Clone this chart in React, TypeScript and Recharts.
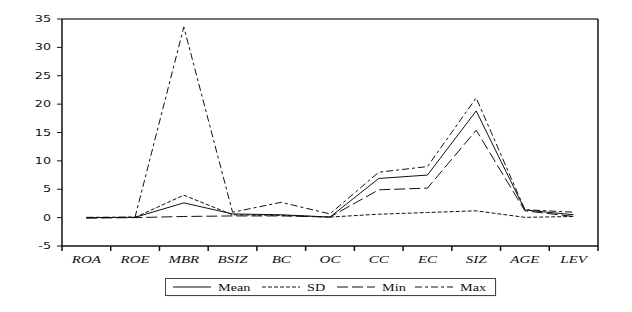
import { LineChart, Line, XAxis, YAxis, Legend } from "recharts";

const categories = ["ROA", "ROE", "MBR", "BSIZ", "BC", "OC", "CC", "EC", "SIZ", "AGE", "LEV"];
const meanValues = [0.0, 0.05, 2.6, 0.65, 0.5, 0.1, 6.9, 7.5, 18.8, 1.35, 0.5];
const sdValues = [0.0, 0.05, 3.95, 0.5, 0.4, 0.1, 0.6, 0.9, 1.2, 0.05, 0.2];
const minValues = [-0.1, 0.0, 0.2, 0.3, 0.3, 0.1, 4.9, 5.2, 15.4, 1.2, 0.2];
const maxValues = [0.05, 0.1, 33.6, 0.95, 2.7, 0.65, 8.0, 9.0, 21.1, 1.4, 0.95];
const yTicks = [-5, 0, 5, 10, 15, 20, 25, 30, 35];

const data = categories.map((cat, i) => ({
  cat,
  Mean: meanValues[i],
  SD: sdValues[i],
  Min: minValues[i],
  Max: maxValues[i],
}));

const series = [
  { key: "Mean", dash: undefined },
  { key: "SD", dash: "4 2" },
  { key: "Min", dash: "11 4" },
  { key: "Max", dash: "7 3 3 3" },
];

const STRETCH = 1.5;
const HALF_BAND = 536 / 11 / 2;

function YTick({ x, y, payload }: any) {
  return (
    <g transform={`translate(${x - 4},${y})`}>
      <text
        transform={`scale(${STRETCH},1)`}
        textAnchor="end"
        dy={3}
        fontFamily="DejaVu Sans"
        fontSize={8.5}
        fill="#111"
      >
        {payload.value}
      </text>
    </g>
  );
}

function XTick({ x, y, payload, index }: any) {
  return (
    <g>
      <line x1={x - HALF_BAND} x2={x - HALF_BAND} y1={y} y2={y + 5} stroke="#111" strokeWidth={1.5} />
      {index === categories.length - 1 && (
        <line x1={x + HALF_BAND} x2={x + HALF_BAND} y1={y} y2={y + 5} stroke="#111" strokeWidth={1.5} />
      )}
      <g transform={`translate(${x},${y + 16.5})`}>
        <text
          transform={`scale(${STRETCH},1)`}
          textAnchor="middle"
          fontFamily="Liberation Serif"
          fontStyle="italic"
          fontSize={10}
          fill="#111"
        >
          {payload.value}
        </text>
      </g>
    </g>
  );
}

const legendItems = [
  { key: "Mean", lineX: 8, textX: 53 },
  { key: "SD", lineX: 97, textX: 142 },
  { key: "Min", lineX: 172, textX: 217 },
  { key: "Max", lineX: 250, textX: 295 },
];

function LegendBox() {
  return (
    <svg width={332} height={19} style={{ display: "block" }}>
      <rect x={1.5} y={1.5} width={330} height={17} fill="#ddd" stroke="none" />
      <rect x={0.5} y={0.5} width={330} height={17} fill="#fff" stroke="#444" />
      {legendItems.map((item) => {
        const s = series.find((d) => d.key === item.key)!;
        return (
          <g key={item.key}>
            <line
              x1={item.lineX}
              x2={item.lineX + 38}
              y1={9}
              y2={9}
              stroke="#111"
              strokeWidth={1}
              strokeDasharray={s.dash}
            />
            <g transform={`translate(${item.textX},12.5)`}>
              <text transform={`scale(${STRETCH},1)`} fontFamily="Liberation Serif" fontSize={9.5} fill="#111">
                {item.key}
              </text>
            </g>
          </g>
        );
      })}
    </svg>
  );
}

export default function App() {
  return (
    <div style={{ position: "absolute", left: 0, top: 0, width: 632, height: 312, background: "#fff" }}>
      <LineChart width={632} height={312} data={data} margin={{ top: 18, right: 33, left: 0, bottom: 36 }}>
        <XAxis
          dataKey="cat"
          interval={0}
          height={30}
          padding={{ left: HALF_BAND, right: HALF_BAND }}
          tickSize={0}
          tickMargin={0}
          tickLine={false}
          axisLine={{ stroke: "#111", strokeWidth: 1.5 }}
          tick={<XTick />}
        />
        <XAxis
          xAxisId="top"
          dataKey="cat"
          orientation="top"
          height={1}
          tick={false}
          tickLine={false}
          axisLine={{ stroke: "#444", strokeWidth: 1.5 }}
        />
        <YAxis
          width={62}
          domain={[-5, 35]}
          ticks={yTicks}
          interval={0}
          tickSize={5}
          tickLine={{ stroke: "#111" }}
          axisLine={{ stroke: "#111", strokeWidth: 1.5 }}
          tick={<YTick />}
        />
        <YAxis
          yAxisId="right"
          orientation="right"
          width={1}
          tick={false}
          tickLine={false}
          axisLine={{ stroke: "#111", strokeWidth: 1.5 }}
        />
        <Legend
          layout="horizontal"
          verticalAlign="middle"
          align="center"
          wrapperStyle={{ position: "absolute", left: 165, top: 278, width: 332, height: 19 }}
          content={() => <LegendBox />}
        />
        {series.map((s) => (
          <Line
            key={s.key}
            dataKey={s.key}
            type="linear"
            stroke="#111"
            strokeWidth={1}
            strokeDasharray={s.dash}
            dot={false}
            activeDot={false}
            isAnimationActive={false}
          />
        ))}
      </LineChart>
    </div>
  );
}
